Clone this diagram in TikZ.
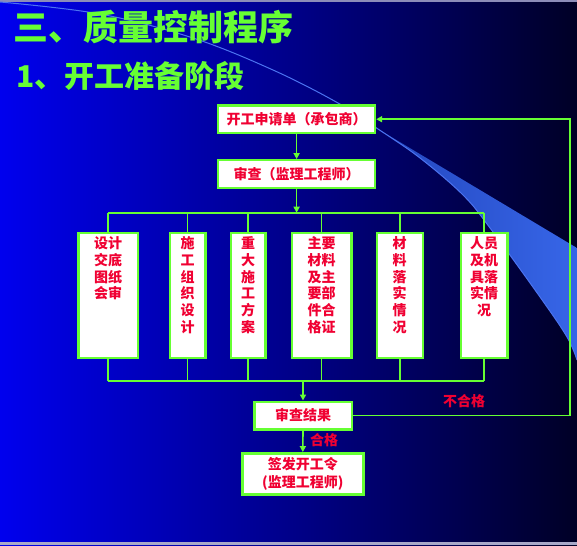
\documentclass[tikz,border=0pt]{standalone}
\usepackage{fontspec}
\newfontfamily\cjk{Noto Sans CJK SC}
\usetikzlibrary{arrows.meta}
\definecolor{lgreen}{RGB}{102,255,51}
\definecolor{tred}{RGB}{240,0,50}
\definecolor{bgL}{RGB}{0,0,238}
\definecolor{bgR}{RGB}{0,0,38}
\definecolor{stripA}{RGB}{140,140,185}
\definecolor{stripB}{RGB}{168,168,200}
\definecolor{arcc}{RGB}{75,115,240}
\definecolor{wedgeL}{RGB}{35,70,190}
\definecolor{wedgeR}{RGB}{55,102,232}
\begin{document}
\begin{tikzpicture}[x=1pt,y=-1pt,
  box/.style={draw=lgreen, line width=2.4pt, fill=white, inner sep=0pt},
  conn/.style={draw=lgreen, line width=1.6pt},
  arr/.style={conn, -{Triangle[length=6pt,width=6pt]}},
  rtext/.style={text=tred, font=\cjk\bfseries\fontsize{14}{16.7}\selectfont, align=center, inner sep=0pt},
  gtitle/.style={text=lgreen, inner sep=0pt, anchor=base west}]
\useasboundingbox (0,0) rectangle (577,545);
% background
\shade[left color=bgL, right color=bgR] (0,0) rectangle (577,545);
\fill[stripA] (0,0) rectangle (577,2.5);
\fill[stripB] (0,542) rectangle (577,545);
% decorative arc and wedge
\shade[left color=wedgeL, right color=wedgeR] (577,360) -- (577,248) -- (378,129)
  -- plot[smooth, tension=0.6] coordinates {(378,129) (420,158) (463,195) (490,228) (540,297) (567,337) (577,360)} -- cycle;
\draw[arcc, line width=1pt] plot[smooth, tension=0.6] coordinates
  {(0,2) (100,14) (193,38) (273,70) (338,103) (378,129) (420,158) (463,195) (490,228) (540,297) (567,337) (577,360)};
% titles
\node[gtitle, font=\cjk\bfseries\fontsize{35}{40}\selectfont] (title) at (13,41) {三、质量控制程序};
\node[gtitle, font=\cjk\bfseries\fontsize{30}{34}\selectfont] (subtitle) at (16,88) {1、开工准备阶段};
% top boxes
\node[box, rtext, minimum width=156.7pt, minimum height=27.7pt] (b1) at (296.6,119.2) {开工申请单（承包商）};
\node[box, rtext, minimum width=156.7pt, minimum height=28pt] (b2) at (296.6,174.3) {审查（监理工程师）};
% tall boxes
\node[box, minimum width=59.7pt, minimum height=125pt] (A) at (108.2,295.2) {};
\node[box, minimum width=35.6pt, minimum height=125pt] (B) at (187.5,295.2) {};
\node[box, minimum width=34.6pt, minimum height=125pt] (C) at (248,295.2) {};
\node[box, minimum width=59.6pt, minimum height=125pt] (D) at (321.5,295.2) {};
\node[box, minimum width=46pt, minimum height=125pt] (E) at (399.7,295.2) {};
\node[box, minimum width=46.6pt, minimum height=125pt] (F) at (484,295.2) {};
\node[rtext, anchor=north] (tA) at ([yshift=-5pt]A.north) {设计\\交底\\图纸\\会审};
\node[rtext, anchor=north] (tB) at ([yshift=-5pt]B.north) {施\\工\\组\\织\\设\\计};
\node[rtext, anchor=north] (tC) at ([yshift=-5pt]C.north) {重\\大\\施\\工\\方\\案};
\node[rtext, anchor=north] (tD) at ([yshift=-5pt]D.north) {主要\\材料\\及主\\要部\\件合\\格证};
\node[rtext, anchor=north] (tE) at ([yshift=-5pt]E.north) {材\\料\\落\\实\\情\\况};
\node[rtext, anchor=north] (tF) at ([yshift=-5pt]F.north) {人员\\及机\\具落\\实情\\况};
% result and final boxes
\node[box, rtext, minimum width=97.4pt, minimum height=27.6pt] (R) at (303,415.5) {审查结果};
\node[box, rtext, minimum width=121pt, minimum height=41pt, font=\cjk\bfseries\fontsize{14}{18}\selectfont] (G) at (302.8,473.8) {签发开工令\\(监理工程师)};
% buses
\coordinate (busT) at (296.6,212.7);
\coordinate (busB) at (303,380.7);
\coordinate (fbc) at (570,300);
% connectors
\draw[arr] (b1.south) -- (b2.north);
\draw[arr] (b2.south) -- (busT);
\draw[conn] (A.north |- busT) -- (F.north |- busT);
\foreach \n in {A,B,C,D,E,F} {
  \draw[conn] (\n.north |- busT) -- (\n.north);
  \draw[conn] (\n.south) -- (\n.south |- busB);
}
\draw[conn] (A.south |- busB) -- (F.south |- busB);
\draw[arr] (busB) -- (R.north);
\draw[arr] (R.south) -- (G.north);
\draw[arr] (R.east) -- (R.east -| fbc) -- (b1.east -| fbc) -- (b1.east);
% labels
\node[rtext] (lok) at (324,440) {合格};
\node[rtext] (lno) at (464,401) {不合格};
\end{tikzpicture}
\end{document}
